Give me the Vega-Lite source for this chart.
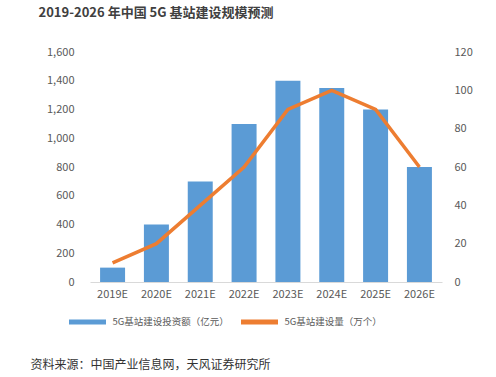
{
  "$schema": "https://vega.github.io/schema/vega-lite/v6.json",
  "background": "white",
  "padding": {"left": 30, "top": 7, "right": 5, "bottom": 5},
  "config": {
    "font": "Noto Sans CJK SC",
    "view": {"stroke": null},
    "axis": {"labelColor": "#595959", "labelFontSize": 11, "titleColor": "#595959", "grid": false, "ticks": false}
  },
  "title": {"text": "资料来源：中国产业信息网，天风证券研究所", "orient": "bottom", "anchor": "start", "fontSize": 12, "fontWeight": "normal", "color": "#333333", "offset": 28, "dx": -8},
  "vconcat": [
    {
      "title": {"text": "2019-2026 年中国 5G 基站建设规模预测", "anchor": "start", "fontSize": 13, "fontWeight": "bold", "color": "#404040", "offset": 26, "dx": -8},
      "width": 352,
      "height": 230,
      "data": {"values": [
        {"year": "2019E", "invest": 100, "count": 10},
        {"year": "2020E", "invest": 400, "count": 20},
        {"year": "2021E", "invest": 700, "count": 40},
        {"year": "2022E", "invest": 1100, "count": 60},
        {"year": "2023E", "invest": 1400, "count": 90},
        {"year": "2024E", "invest": 1350, "count": 100},
        {"year": "2025E", "invest": 1200, "count": 90},
        {"year": "2026E", "invest": 800, "count": 60}
      ]},
      "encoding": {
        "x": {"field": "year", "type": "nominal", "title": null, "scale": {"paddingInner": 0.43, "paddingOuter": 0.23},
          "axis": {"labelAngle": 0, "domainColor": "#d9d9d9", "labelPadding": 6}}
      },
      "layer": [
        {
          "mark": {"type": "bar"},
          "encoding": {
            "y": {"field": "invest", "type": "quantitative", "title": null, "scale": {"domain": [0, 1600]},
              "axis": {"values": [0, 200, 400, 600, 800, 1000, 1200, 1400, 1600], "format": ",d", "domain": false, "labelPadding": 16}},
            "color": {"datum": "5G基站建设投资额（亿元）", "type": "nominal",
              "scale": {"domain": ["5G基站建设投资额（亿元）", "5G基站建设量（万个）"], "range": ["#5B9BD5", "#ED7D31"]},
              "legend": {"orient": "none", "legendX": -23.5, "legendY": 249, "direction": "horizontal", "title": null, "symbolType": "stroke", "symbolSize": 1369, "symbolStrokeWidth": 5, "labelFontSize": 9.5, "labelColor": "#595959", "columnPadding": 1}}
          }
        },
        {
          "mark": {"type": "line", "strokeWidth": 3.5},
          "encoding": {
            "y": {"field": "count", "type": "quantitative", "title": null, "scale": {"domain": [0, 120]},
              "axis": {"orient": "right", "values": [0, 20, 40, 60, 80, 100, 120], "domain": false, "labelPadding": 12}},
            "color": {"datum": "5G基站建设量（万个）", "type": "nominal"}
          }
        }
      ],
      "resolve": {"scale": {"y": "independent"}, "axis": {"y": "independent"}}
    }
  ]
}
